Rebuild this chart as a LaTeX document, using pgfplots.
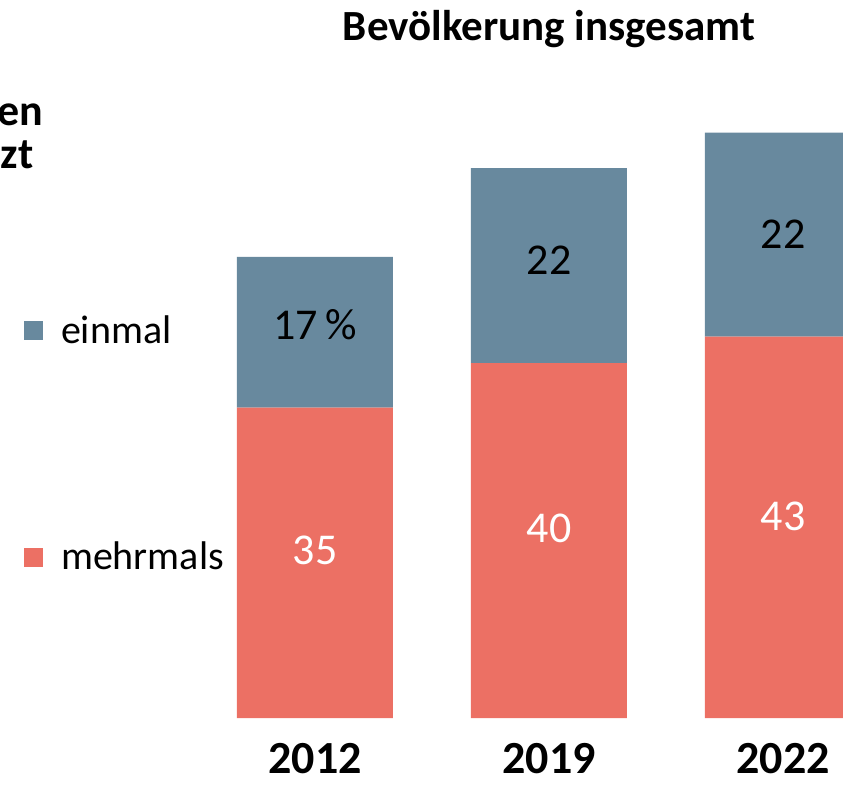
\documentclass[border=0pt]{standalone}
\usepackage{pgfplots}
\pgfplotsset{compat=1.18}
\usepackage{fontspec}
\setmainfont{Carlito}
\definecolor{einmal}{HTML}{68899E}
\definecolor{mehrmals}{HTML}{EC7064}

\begin{document}
\begin{tikzpicture}[x=0.5pt,y=0.5pt]
% 1 px of the reference = 0.5pt, origin at the foot of the 2012 bar
\begin{scope}
\clip (-315,-66) rectangle (528,718);
\begin{axis}[
    anchor=origin, at={(0,0)},
    x=117pt, y=4.435pt,
    xmin=-1.35, xmax=2.3, ymin=0, ymax=81,
    enlargelimits=false,
    ybar stacked, bar width=78pt,
    axis line style={draw=none},
    major tick style={draw=none},
    ytick=\empty,
    xtick={0,1,2},
    xticklabels={2012,2019,2022},
    xticklabel style={font=\fontsize{23}{26}\selectfont\bfseries, anchor=north, yshift=-9pt},
    reverse legend,
    legend cell align=left,
    legend style={draw=none, fill=none, inner sep=0pt,
        at={(axis cs:-1.245,45.9)}, anchor=north west,
        font=\fontsize{20}{24}\selectfont, row sep=94pt},
  ]
  \addplot[fill=mehrmals, draw=none,
    legend image code/.code={\fill[mehrmals] (0pt,-4.7pt) rectangle (9.5pt,4.7pt);}]
    coordinates {(0,35) (1,40) (2,43)};
  \addlegendentry{\hspace{7pt}mehrmals}
  \addplot[fill=einmal, draw=none,
    legend image code/.code={\fill[einmal] (0pt,-4.7pt) rectangle (9.5pt,4.7pt);}]
    coordinates {(0,17) (1,22) (2,23)};
  \addlegendentry{\hspace{7pt}einmal}
\end{axis}
\begin{axis}[
    anchor=origin, at={(0,0)},
    x=117pt, y=4.435pt,
    xmin=-1.35, xmax=2.3, ymin=0, ymax=81,
    enlargelimits=false, hide axis, clip=false,
  ]
  % value labels, white in the red part, black in the blue part
  \addplot[draw=none, nodes near coords, point meta=explicit symbolic,
    every node near coord/.append style={anchor=center, text=white,
      font=\fontsize{22}{26}\selectfont}]
    coordinates {(0,18.9)[35] (1,21.4)[40] (2,22.7)[43]};
  \addplot[draw=none, nodes near coords, point meta=explicit symbolic,
    every node near coord/.append style={anchor=center, text=black,
      font=\fontsize{22}{26}\selectfont}]
    coordinates {(0,44.3)[17\,\%] (1,51.6)[22] (2,54.5)[22]};
\end{axis}
\node[anchor=base, font=\fontsize{21.5}{25}\selectfont\bfseries] at (234,678) {Bevölkerung insgesamt};
\node[anchor=base east, inner sep=0pt, font=\fontsize{22}{26}\selectfont\bfseries] at (-271,593) {en};
\node[anchor=base east, inner sep=0pt, font=\fontsize{22}{26}\selectfont\bfseries] at (-281,550) {zt};
\end{scope}
\pgfresetboundingbox
\useasboundingbox (-315,-66) rectangle (528,718);
\end{tikzpicture}
\end{document}
